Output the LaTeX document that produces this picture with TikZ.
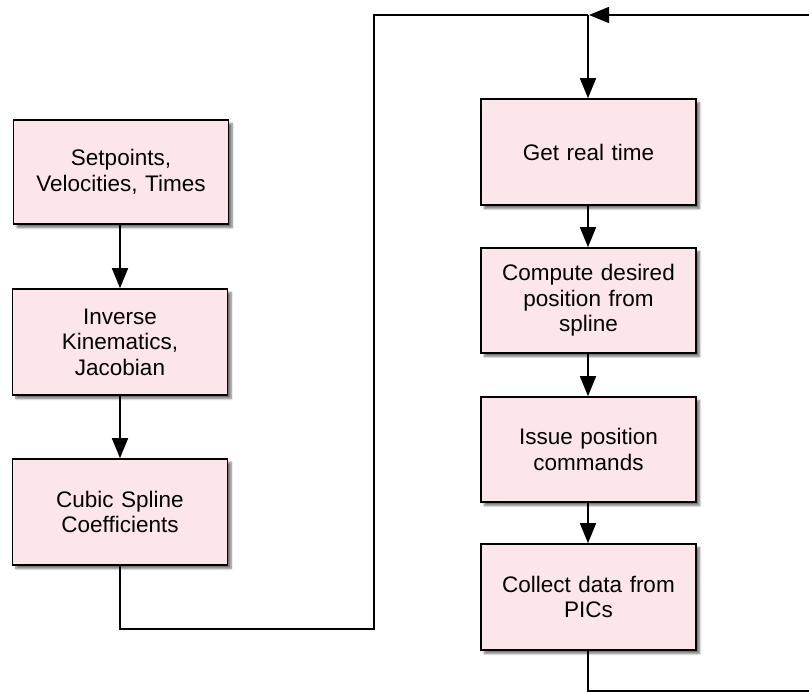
\documentclass[tikz,border=0pt]{standalone}
\usepackage{fontspec}
\setmainfont{Liberation Sans}
\usetikzlibrary{arrows.meta,shadows.blur}
\definecolor{boxpink}{RGB}{253,230,233}
\tikzset{
  procbox/.style={draw=black, line width=1.6pt, fill=boxpink, minimum width=215pt, minimum height=106pt,
    text width=205pt, align=center, inner sep=0pt,
    font=\fontsize{22.5}{25.5}\selectfont,
    blur shadow={shadow xshift=3.5pt, shadow yshift=-3.5pt, shadow blur steps=6, shadow opacity=55}},
  conn/.style={draw=black, line width=1.5pt},
  arr/.style={conn, -{Triangle[length=20pt,width=16pt]}}
}
\begin{document}
\begin{tikzpicture}[x=1pt,y=-1pt]
\useasboundingbox (0,0) rectangle (809,692);
\clip (0,0) rectangle (809,692);
% left column
\node[procbox, minimum height=104pt] (s1) at (121,172) {Setpoints,\\Velocities, Times};
\node[procbox] (s2) at (120,342) {Inverse\\Kinematics,\\Jacobian};
\node[procbox] (s3) at (120,512) {Cubic Spline\\Coefficients};
% right column
\node[procbox] (r1) at (588.5,152) {Get real time};
\node[procbox, minimum height=105pt] (r2) at (588.5,300.5) {Compute desired\\position from\\spline};
\node[procbox, minimum height=105pt] (r3) at (588.5,449.5) {Issue position\\commands};
\node[procbox] (r4) at (588.5,597) {Collect data from\\PICs};
% loop coordinates
\coordinate (c2) at (374,629);
\coordinate (j) at (588,15);
\coordinate (eb) at (815,691);
\coordinate (et) at (815,15);
\coordinate (tipr) at (589,15);
% connectors
\draw[arr] (s1.south -| 120,0) -- (s2.north -| 120,0);
\draw[arr] (s2.south) -- (s3.north);
\draw[arr] (r1.south -| j) -- (r2.north -| j);
\draw[arr] (r2.south -| j) -- (r3.north -| j);
\draw[arr] (r3.south -| j) -- (r4.north -| j);
\draw[conn, line join=miter] (s3.south) |- (c2) |- (j);
\draw[arr] (j) -- (r1.north -| j);
\draw[conn] (r4.south -| j) |- (eb);
\draw[arr] (et) -- (tipr);
\end{tikzpicture}
\end{document}
